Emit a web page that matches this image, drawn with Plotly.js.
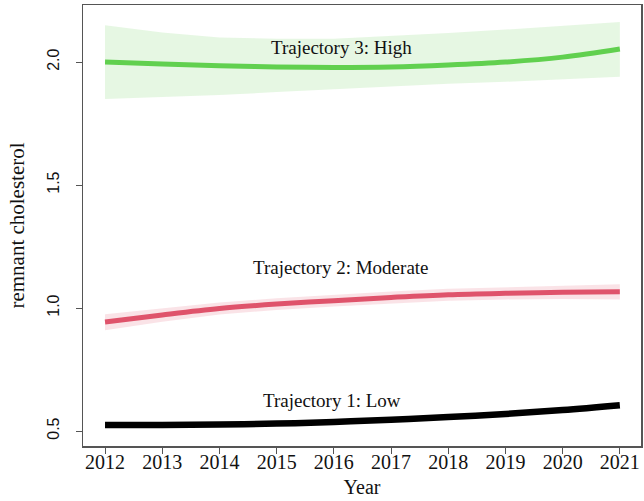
<!DOCTYPE html>
<html>
<head>
<meta charset="utf-8">
<script src="https://cdn.plot.ly/plotly-3.0.1.min.js"></script>
<style>html,body{margin:0;padding:0;background:#fff;}#chart{width:644px;height:501px;}</style>
</head>
<body>
<div id="chart"></div>
<script>
var years = [2012, 2013, 2014, 2015, 2016, 2017, 2018, 2019, 2020, 2021];

var highMean  = [2.000, 1.992, 1.985, 1.980, 1.978, 1.980, 1.988, 2.000, 2.020, 2.053];
var highUpper = [2.150, 2.120, 2.100, 2.095, 2.095, 2.105, 2.118, 2.132, 2.147, 2.163];
var highLower = [1.850, 1.858, 1.866, 1.878, 1.890, 1.902, 1.912, 1.920, 1.930, 1.940];

var modMean  = [0.943, 0.972, 0.998, 1.016, 1.030, 1.043, 1.054, 1.060, 1.064, 1.066];
var modUpper = [0.975, 1.000, 1.022, 1.040, 1.054, 1.067, 1.078, 1.085, 1.091, 1.097];
var modLower = [0.910, 0.944, 0.974, 0.992, 1.006, 1.019, 1.030, 1.035, 1.037, 1.035];

var lowMean  = [0.524, 0.524, 0.526, 0.530, 0.537, 0.546, 0.557, 0.569, 0.585, 0.605];
var lowUpper = [0.534, 0.532, 0.533, 0.537, 0.544, 0.553, 0.564, 0.577, 0.594, 0.616];
var lowLower = [0.514, 0.516, 0.519, 0.523, 0.530, 0.539, 0.550, 0.561, 0.576, 0.594];

var labels = ["Trajectory 1: Low", "Trajectory 2: Moderate", "Trajectory 3: High"];
var labelX = [2015.97, 2016.13, 2016.14];
var labelY = [0.626, 1.163, 2.061];

var xTicks = years;
var yTicks = [0.5, 1.0, 1.5, 2.0];
var yTickText = ["0.5", "1.0", "1.5", "2.0"];

function band(lower, upper, color) {
  return [
    {x: years, y: lower, mode: 'lines', line: {width: 0, color: color}, hoverinfo: 'skip', showlegend: false},
    {x: years, y: upper, mode: 'lines', line: {width: 0, color: color}, fill: 'tonexty', fillcolor: color, hoverinfo: 'skip', showlegend: false}
  ];
}
function line(y, color, w) {
  return {x: years, y: y, mode: 'lines', line: {color: color, width: w, shape: 'spline'}, showlegend: false};
}

var data = []
  .concat(band(highLower, highUpper, 'rgba(97,208,79,0.16)'))
  .concat(band(modLower, modUpper, 'rgba(223,83,107,0.16)'))
  .concat(band(lowLower, lowUpper, 'rgba(0,0,0,0.08)'))
  .concat([line(highMean, '#61D04F', 5), line(modMean, '#DF536B', 5), line(lowMean, '#000000', 6.5)]);

var serif = 'Liberation Serif, Times New Roman, serif';
var annotations = labels.map(function (t, i) {
  return {x: labelX[i], y: labelY[i], text: t, showarrow: false, xanchor: 'center', yanchor: 'middle',
          font: {family: serif, size: 19, color: '#111'}};
});

var layout = {
  width: 644, height: 501,
  margin: {l: 83, r: 3, t: 5, b: 55},
  paper_bgcolor: '#fff', plot_bgcolor: '#fff',
  showlegend: false,
  xaxis: {
    range: [2011.615, 2021.37], tickvals: xTicks, ticktext: xTicks.map(String),
    showgrid: false, zeroline: false, showline: true, mirror: true, linecolor: '#555', linewidth: 1.5,
    ticks: 'outside', ticklen: 6, tickcolor: '#555', tickwidth: 1,
    tickfont: {family: serif, size: 20, color: '#111'},
    ticklabelstandoff: -9,
    title: {text: 'Year', font: {family: serif, size: 20, color: '#111'}, standoff: 8}
  },
  yaxis: {
    range: [0.439, 2.232], tickvals: yTicks, ticktext: yTickText, tickangle: -90,
    showgrid: false, zeroline: false, showline: true, mirror: true, linecolor: '#555', linewidth: 1.5,
    ticks: 'outside', ticklen: 6, tickcolor: '#555', tickwidth: 1,
    tickfont: {family: 'Liberation Sans, Arial, sans-serif', size: 16, color: '#111'},
    ticklabelstandoff: 10,
    title: {text: 'remnant cholesterol', font: {family: serif, size: 21, color: '#111'}, standoff: 14}
  },
  annotations: annotations
};

Plotly.newPlot('chart', data, layout, {displayModeBar: false, staticPlot: true});
</script>
</body>
</html>
